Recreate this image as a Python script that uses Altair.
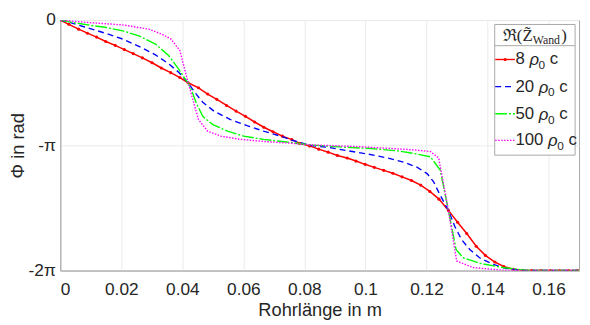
import altair as alt
import pandas as pd

# ---- data (x in m, phase in units of pi) ----
red_x = [0, 0.0028, 0.0060, 0.0089, 0.0119, 0.0149, 0.0180, 0.0210, 0.0239, 0.0269,
         0.0301, 0.0331, 0.0362, 0.0392, 0.0419, 0.0453, 0.0483, 0.0513, 0.0545, 0.0576,
         0.0607, 0.0637, 0.0667, 0.0697, 0.0728, 0.0759, 0.0785, 0.0817, 0.0847, 0.0878,
         0.0908, 0.0940, 0.0969, 0.0999, 0.1029, 0.1060, 0.1090, 0.1120, 0.1151, 0.1181,
         0.1211, 0.1241, 0.1272, 0.1302, 0.1332, 0.1363, 0.1393, 0.1424, 0.1454, 0.1484,
         0.1515, 0.1545, 0.1575, 0.1606, 0.1636, 0.1666, 0.1696]
red_y = [0, -0.034, -0.073, -0.105, -0.136, -0.171, -0.202, -0.236, -0.268, -0.302,
         -0.341, -0.383, -0.420, -0.459, -0.501, -0.541, -0.591, -0.633, -0.682, -0.727,
         -0.769, -0.814, -0.856, -0.892, -0.927, -0.955, -0.985, -1.005, -1.031, -1.055,
         -1.081, -1.102, -1.126, -1.152, -1.176, -1.200, -1.223, -1.252, -1.281, -1.318,
         -1.368, -1.430, -1.520, -1.614, -1.704, -1.806, -1.879, -1.932, -1.969, -1.990,
         -1.998, -2.0, -2.0, -2.0, -2.0, -2.0, -2.0]

blue_x = [0, 0.0033, 0.0098, 0.0151, 0.0205, 0.0264, 0.0312, 0.0355, 0.0387, 0.0419,
          0.0441, 0.0467, 0.0505, 0.0558, 0.0612, 0.0666, 0.0719, 0.0760, 0.0817, 0.0881,
          0.0945, 0.1010, 0.1074, 0.1127, 0.1170, 0.1203, 0.1224, 0.1245, 0.1272, 0.1293,
          0.1315, 0.1342, 0.1374, 0.1417, 0.1460, 0.1503, 0.1556, 0.1700]
blue_y = [0, -0.021, -0.068, -0.108, -0.152, -0.218, -0.278, -0.349, -0.415, -0.501,
          -0.578, -0.656, -0.730, -0.795, -0.843, -0.887, -0.925, -0.960, -1.000, -1.018,
          -1.045, -1.071, -1.102, -1.136, -1.176, -1.228, -1.294, -1.399, -1.520, -1.648,
          -1.753, -1.832, -1.898, -1.950, -1.982, -1.997, -2.0, -2.0]

green_x = [0, 0.0044, 0.0098, 0.0151, 0.0205, 0.0258, 0.0312, 0.0355, 0.0387, 0.0408,
           0.0419, 0.0430, 0.0446, 0.0467, 0.0500, 0.0548, 0.0601, 0.0666, 0.0760, 0.0817,
           0.0913, 0.1020, 0.1106, 0.1160, 0.1213, 0.1245, 0.1272, 0.1297, 0.1320, 0.1374,
           0.1449, 0.1524, 0.1610, 0.1700]
green_y = [0, -0.021, -0.042, -0.060, -0.087, -0.126, -0.192, -0.283, -0.388, -0.467,
           -0.501, -0.559, -0.664, -0.769, -0.835, -0.887, -0.927, -0.953, -0.979, -0.997,
           -1.013, -1.026, -1.045, -1.066, -1.092, -1.197, -1.520, -1.832, -1.898, -1.942,
           -1.976, -1.997, -2.0, -2.0]

magenta_x = [0, 0.0098, 0.0205, 0.0290, 0.0333, 0.0363, 0.0392, 0.0419, 0.0453, 0.0483,
             0.0526, 0.0591, 0.0676, 0.0760, 0.0820, 0.0967, 0.1074, 0.1160, 0.1213, 0.1240,
             0.1272, 0.1299, 0.1352, 0.1449, 0.1556, 0.1700]
magenta_y = [0, -0.021, -0.039, -0.073, -0.113, -0.152, -0.244, -0.501, -0.795, -0.887,
             -0.927, -0.953, -0.971, -0.984, -0.997, -1.010, -1.024, -1.037, -1.050, -1.102,
             -1.520, -1.924, -1.976, -1.997, -2.0, -2.0]

series_numbers = ["8", "20", "50", "100"]
series_colors = ["#ff0000", "#0000ff", "#00ff00", "#ff00ff"]
x_ticks = [0, 0.02, 0.04, 0.06, 0.08, 0.1, 0.12, 0.14, 0.16]
y_ticks = [-2, -1, 0]

FONT = "Liberation Sans"
SERIF = "Liberation Serif"
AX = "#a8a8a8"
TXT = "#262626"
W, H = 526, 254

x_enc = alt.X("x:Q", scale=alt.Scale(domain=[0, 0.17], nice=False, zero=False),
              axis=alt.Axis(values=x_ticks, format="~g", title="Rohrlänge in m",
                            titleX=263, titleY=40, titleBaseline="middle"))
y_enc = alt.Y("phi:Q", scale=alt.Scale(domain=[-2, 0], nice=False),
              axis=alt.Axis(values=y_ticks, title="Φ in rad",
                            labelExpr="datum.value == 0 ? '0' : (datum.value == -1 ? '-π' : '-2π')",
                            titleX=-43, titleY=127, titleBaseline="middle", titleAngle=-90))

def frame(xs, ys):
    return pd.DataFrame({"x": xs, "phi": ys})

dashes = [None, [6, 4], [12, 2, 2, 2], [1.5, 1.5]]
data_sets = [(red_x, red_y), (blue_x, blue_y), (green_x, green_y), (magenta_x, magenta_y)]

layers = []
for (xs, ys), col, dash in zip(data_sets, series_colors, dashes):
    kw = dict(color=col, strokeWidth=1.5 if dash is None else 1.4, clip=True)
    if dash is not None:
        kw["strokeDash"] = dash
    else:
        kw["point"] = alt.OverlayMarkDef(filled=True, size=10, color=col)
    layers.append(alt.Chart(frame(xs, ys)).mark_line(**kw).encode(x=x_enc, y=y_enc))

one = pd.DataFrame({"k": [0]})

# legend box
LX0, LX1, LY0, LY1 = 440.5, 522, 4.5, 137
layers.append(alt.Chart(one).mark_rect(fill="white", stroke=AX, strokeWidth=1).encode(
    x=alt.value(LX0), x2=alt.value(LX1), y=alt.value(LY0), y2=alt.value(LY1)))
layers.append(alt.Chart(one).mark_rule(color=AX, strokeWidth=1).encode(
    x=alt.value(LX0), x2=alt.value(LX1), y=alt.value(26)))

# legend title  ℜ(Z̃_Wand)
TY = 16.5
layers.append(alt.Chart(one).mark_text(text="ℜ(Z\u0303", font=SERIF, fontSize=17, align="right",
                                       baseline="middle", color=TXT).encode(
    x=alt.value(479), y=alt.value(TY)))
layers.append(alt.Chart(one).mark_text(text="Wand", font=SERIF, fontSize=12, align="left",
                                       baseline="middle", color=TXT).encode(
    x=alt.value(479), y=alt.value(TY + 4)))
layers.append(alt.Chart(one).mark_text(text=")", font=SERIF, fontSize=17, align="left",
                                       baseline="middle", color=TXT).encode(
    x=alt.value(508), y=alt.value(TY)))

# legend entries
entry_y = [40, 67.5, 95, 122]
FS = 17
for num, col, dash, ey in zip(series_numbers, series_colors, dashes, entry_y):
    rkw = dict(color=col, strokeWidth=1.4)
    if dash is not None:
        rkw["strokeDash"] = dash
    layers.append(alt.Chart(one).mark_rule(**rkw).encode(
        x=alt.value(441), x2=alt.value(461), y=alt.value(ey)))
    if dash is None:
        layers.append(alt.Chart(one).mark_point(filled=True, size=10, color=col, opacity=1).encode(
            x=alt.value(451), y=alt.value(ey)))
    tx = 461.5
    layers.append(alt.Chart(one).mark_text(text=num, font=FONT, fontSize=FS, align="left",
                                           baseline="middle", color=TXT).encode(
        x=alt.value(tx), y=alt.value(ey)))
    rx = tx + len(num) * 0.556 * FS + 0.278 * FS
    layers.append(alt.Chart(one).mark_text(text="ρ", font=FONT, fontSize=FS, fontStyle="italic",
                                           align="left", baseline="middle", color=TXT).encode(
        x=alt.value(rx), y=alt.value(ey + 1)))
    sx = rx + 9.3
    layers.append(alt.Chart(one).mark_text(text="0", font=FONT, fontSize=12, align="left",
                                           baseline="middle", color=TXT).encode(
        x=alt.value(sx), y=alt.value(ey + 6)))
    cx = sx + 6.7 + 0.278 * FS
    layers.append(alt.Chart(one).mark_text(text="c", font=FONT, fontSize=FS, align="left",
                                           baseline="middle", color=TXT).encode(
        x=alt.value(cx), y=alt.value(ey)))

chart = alt.layer(*layers).properties(
    width=W, height=H,
    autosize=alt.AutoSizeParams(type="none"),
    padding={"left": 53, "top": 10, "right": 3, "bottom": 52},
).configure_view(
    stroke=AX, strokeWidth=1
).configure_axis(
    domainColor=AX, grid=True, gridColor="#ebebeb", gridWidth=1, ticks=False,
    labelFont=FONT, labelFontSize=17.5, labelColor=TXT,
    titleFont=FONT, titleFontSize=18.5, titleFontWeight="normal", titleColor=TXT,
).configure_axisX(labelPadding=10).configure_axisY(labelPadding=5)

chart.save("out.html", embed_options={"renderer": "svg", "actions": False})
